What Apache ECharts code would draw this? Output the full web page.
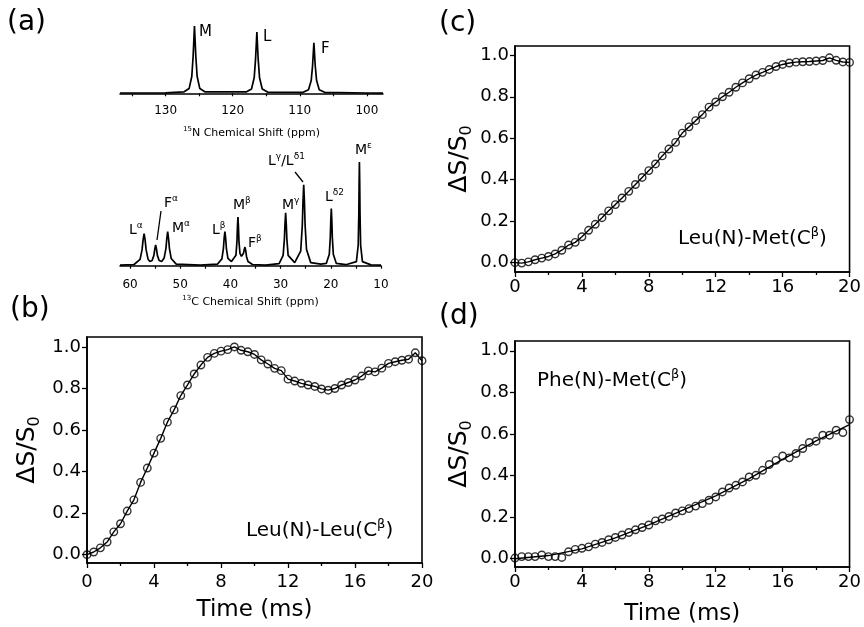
<!DOCTYPE html>
<html><head><meta charset="utf-8">
<script src="https://cdn.jsdelivr.net/npm/echarts@6/dist/echarts.min.js"></script>
<style>html,body{margin:0;padding:0;background:#fff}#c{width:864px;height:627px}</style>
</head><body><div id="c"></div><script>
// ---------- data ----------
const times = [0,0.4,0.8,1.2,1.6,2,2.4,2.8,3.2,3.6,4,4.4,4.8,5.2,5.6,6,6.4,6.8,7.2,7.6,8,8.4,8.8,9.2,9.6,10,10.4,10.8,11.2,11.6,12,12.4,12.8,13.2,13.6,14,14.4,14.8,15.2,15.6,16,16.4,16.8,17.2,17.6,18,18.4,18.8,19.2,19.6,20];
const leuLeu = [0.00,0.013,0.033,0.061,0.11,0.149,0.21,0.264,0.348,0.417,0.489,0.56,0.638,0.697,0.766,0.817,0.87,0.913,0.95,0.969,0.98,0.987,1.0,0.984,0.977,0.964,0.938,0.918,0.897,0.886,0.845,0.836,0.825,0.817,0.81,0.798,0.792,0.80,0.817,0.829,0.841,0.86,0.885,0.88,0.898,0.921,0.929,0.936,0.941,0.972,0.934];
const leuMet = [0.0,-0.002,0.004,0.014,0.022,0.03,0.042,0.06,0.085,0.098,0.125,0.156,0.185,0.217,0.25,0.28,0.312,0.344,0.377,0.411,0.444,0.476,0.515,0.548,0.58,0.625,0.655,0.685,0.714,0.75,0.775,0.8,0.822,0.846,0.867,0.887,0.905,0.918,0.932,0.946,0.956,0.963,0.967,0.969,0.97,0.973,0.975,0.988,0.976,0.968,0.966];
const pheMet = [0.003,0.01,0.01,0.01,0.018,0.01,0.01,0.006,0.033,0.045,0.05,0.057,0.07,0.078,0.091,0.102,0.114,0.126,0.139,0.15,0.162,0.182,0.191,0.203,0.22,0.23,0.241,0.253,0.265,0.281,0.297,0.321,0.34,0.353,0.369,0.393,0.401,0.425,0.453,0.473,0.494,0.485,0.506,0.53,0.559,0.565,0.594,0.594,0.618,0.607,0.669];
const pheMetFitTimes = [0,2,4,6,8,10,12,14,16,18,20];
const pheMetFit = [0.0,0.015,0.047,0.1,0.163,0.232,0.302,0.385,0.478,0.567,0.645];
const yTicks = [0,0.2,0.4,0.6,0.8,1.0];
const timeTicks = [0,4,8,12,16,20];

// 15N spectrum: [ppm, intensity]
const spec15N = [[136.8,0.004],[130,0.006],[127.3,0.02],[126.5,0.07],[126.1,0.25],[125.9,0.55],[125.7,1.0],[125.5,0.55],[125.3,0.25],[124.9,0.07],[124.1,0.02],[118,0.02],[117.2,0.064],[116.8,0.23],[116.6,0.5],[116.4,0.91],[116.2,0.5],[116.0,0.23],[115.6,0.064],[114.8,0.018],[109.5,0.015],[108.7,0.053],[108.3,0.19],[108.1,0.41],[107.9,0.75],[107.7,0.41],[107.5,0.19],[107.1,0.053],[106.3,0.015],[100,0.004],[97.6,0.003]];
const n15Labels = [100,110,120,130];
const n15Ticks = [100,105,110,115,120,125,130,135];

// 13C spectrum: [ppm, intensity]
const spec13C = [[62,0.005],[59.2,0.012],[58.0,0.062],[57.6,0.155],[57.4,0.25],[57.2,0.31],[57.0,0.25],[56.8,0.155],[56.4,0.062],[56.05,0.04],[55.6,0.05],[55.25,0.1],[55.07,0.16],[54.9,0.2],[54.73,0.16],[54.55,0.1],[54.2,0.05],[53.7,0.04],[53.2,0.075],[52.85,0.165],[52.67,0.265],[52.5,0.33],[52.33,0.265],[52.15,0.165],[51.8,0.07],[50.8,0.015],[46,0.005],[42.6,0.015],[41.7,0.066],[41.4,0.165],[41.25,0.265],[41.1,0.33],[40.95,0.265],[40.8,0.165],[40.5,0.07],[39.8,0.04],[38.9,0.1],[38.7,0.235],[38.6,0.375],[38.5,0.47],[38.4,0.375],[38.3,0.235],[38.1,0.12],[37.8,0.09],[37.4,0.12],[37.25,0.155],[37.1,0.18],[36.95,0.145],[36.8,0.09],[36.5,0.04],[35.6,0.012],[33,0.006],[30.3,0.02],[29.5,0.1],[29.25,0.255],[29.12,0.41],[29.0,0.51],[28.88,0.41],[28.75,0.255],[28.5,0.1],[27.2,0.03],[26.0,0.14],[25.68,0.39],[25.54,0.62],[25.4,0.78],[25.26,0.62],[25.12,0.39],[24.84,0.156],[24.0,0.03],[22,0.015],[20.9,0.022],[20.3,0.11],[20.1,0.275],[20.0,0.44],[19.9,0.55],[19.8,0.44],[19.7,0.275],[19.5,0.11],[18.9,0.022],[17,0.01],[14.9,0.04],[14.54,0.2],[14.42,0.5],[14.36,0.8],[14.3,1.0],[14.24,0.8],[14.18,0.5],[14.06,0.2],[13.7,0.04],[12,0.008],[10,0.005]];
const c13Labels = [60,50,40,30,20,10];
const c13Ticks = [60,55,50,45,40,35,30,25,20,15,10];

// ---------- chart ----------
const F = 'DejaVu Sans';
const K = '#000';
const chart = echarts.init(document.getElementById('c'), null, {renderer:'canvas'});

function pair(xs, ys){ return xs.map((x,i)=>[x, ys[i]]); }

const grids = [
  {left:120, top:20, width:263, height:79},
  {left:120, top:155, width:261, height:118},
  {left:87, top:337, width:335, height:226, show:true, borderColor:K, borderWidth:1.6},
  {left:515, top:46, width:338.5, height:226, show:true, borderColor:K, borderWidth:1.6},
  {left:515, top:341, width:337, height:226, show:true, borderColor:K, borderWidth:1.6}
];

function specX(gi, min, max, labels, ticks, name, gap){
  return {gridIndex:gi, type:'value', inverse:true, min:min, max:max,
    axisLine:{show:true, lineStyle:{color:K, width:1.5}},
    axisTick:{show:true, customValues:ticks, length:3, lineStyle:{color:K, width:1.2}},
    axisLabel:{show:true, customValues:labels, color:K, fontSize:12, fontFamily:F, margin:6},
    splitLine:{show:false},
    name:name, nameLocation:'middle', nameGap:gap,
    nameTextStyle:{rich:{a:{fontSize:11, fontFamily:F, color:K, lineHeight:14}, s:{fontSize:7, fontFamily:F, color:K, verticalAlign:'top'}}}
  };
}
function specY(gi, min, max){
  return {gridIndex:gi, type:'value', min:min, max:max, show:false, splitLine:{show:false}};
}
function timeX(gi, withName, margin){
  return {gridIndex:gi, type:'value', min:0, max:20, interval:4,
    axisLine:{show:true, onZero:false, lineStyle:{color:K, width:1.6}},
    axisTick:{show:true, length:5, lineStyle:{color:K, width:1.3}},
    minorTick:{show:true, splitNumber:2, length:3, lineStyle:{color:K, width:1.3}},
    axisLabel:{color:K, fontSize:18, fontFamily:F, margin:margin},
    splitLine:{show:false}, minorSplitLine:{show:false},
    name: withName ? 'Time (ms)' : '', nameLocation:'middle', nameGap:36,
    nameTextStyle:{color:K, fontSize:23, fontFamily:F, verticalAlign:'top'}
  };
}
function fracY(gi, min, max, gap){
  return {gridIndex:gi, type:'value', min:min, max:max,
    axisLine:{show:true, onZero:false, lineStyle:{color:K, width:1.6}},
    axisTick:{show:true, customValues:yTicks, length:5, lineStyle:{color:K, width:1.3}},
    axisLabel:{customValues:yTicks, color:K, fontSize:18, fontFamily:F, margin:6, formatter:v=>v.toFixed(1)},
    splitLine:{show:false},
    name:'{a|ΔS/S}{s|0}', nameLocation:'middle', nameRotate:90, nameGap:gap,
    nameTextStyle:{rich:{a:{fontSize:25, fontFamily:F, color:K, lineHeight:32}, s:{fontSize:16, fontFamily:F, color:K, verticalAlign:'bottom'}}}
  };
}

const lineS = (xi, data, w)=>({type:'line', xAxisIndex:xi, yAxisIndex:xi, data:data, showSymbol:false, smooth:false, lineStyle:{color:K, width:w}, z:2, silent:true});
const dotS = (xi, data)=>({type:'scatter', xAxisIndex:xi, yAxisIndex:xi, data:data, symbol:'circle', symbolSize:7.5, itemStyle:{color:'rgba(0,0,0,0)', borderColor:K, borderWidth:1.4}, z:3, silent:true});

function T(left, top, text, rich){
  return {type:'text', left:left, top:top, z:100, style:{text:text, fill:K, rich:rich}};
}
const big = {a:{fontSize:28, fontFamily:F, fill:K}};
const pk15 = {a:{fontSize:15, fontFamily:F, fill:K}};
const pk13 = {a:{fontSize:14, fontFamily:F, fill:K, lineHeight:18}, s:{fontSize:9, fontFamily:F, fill:K, verticalAlign:'top'}};
const ann = {a:{fontSize:20, fontFamily:F, fill:K, lineHeight:26}, s:{fontSize:13, fontFamily:F, fill:K, verticalAlign:'top'}};

const option = {
  animation:false,
  backgroundColor:'#fff',
  grid:grids,
  xAxis:[
    specX(0, 97.6, 136.8, n15Labels, n15Ticks, '{s|15}{a|N Chemical Shift (ppm)}', 27),
    specX(1, 10, 62, c13Labels, c13Ticks, '{s|13}{a|C Chemical Shift (ppm)}', 22),
    timeX(2, true, 10),
    timeX(3, false, 6),
    timeX(4, true, 6)
  ],
  yAxis:[
    specY(0, -0.085, 1.09),
    specY(1, -0.07, 1.067),
    fracY(2, -0.04, 1.048, 44),
    fracY(3, -0.045, 1.045, 40),
    fracY(4, -0.04, 1.047, 40)
  ],
  series:[
    lineS(0, spec15N, 1.7),
    lineS(1, spec13C, 1.7),
    lineS(2, pair(times, leuLeu), 1.4), dotS(2, pair(times, leuLeu)),
    lineS(3, pair(times, leuMet), 1.4), dotS(3, pair(times, leuMet)),
    lineS(4, pair(pheMetFitTimes, pheMetFit), 1.4), dotS(4, pair(times, pheMet))
  ],
  graphic:[
    T(7, 9, '{a|(a)}', big),
    T(10, 296, '{a|(b)}', big),
    T(439, 10, '{a|(c)}', big),
    T(439, 303, '{a|(d)}', big),
    T(199, 25, '{a|M}', pk15),
    T(263, 30, '{a|L}', pk15),
    T(321, 42, '{a|F}', pk15),
    T(129, 221, '{a|L}{s|α}', pk13),
    T(164, 194, '{a|F}{s|α}', pk13),
    T(172, 219, '{a|M}{s|α}', pk13),
    T(212, 221, '{a|L}{s|β}', pk13),
    T(233, 196, '{a|M}{s|β}', pk13),
    T(248, 234, '{a|F}{s|β}', pk13),
    T(282, 196, '{a|M}{s|γ}', pk13),
    T(268, 152, '{a|L}{s|γ}{a|/L}{s|δ1}', pk13),
    T(325, 188, '{a|L}{s|δ2}', pk13),
    T(355, 141, '{a|M}{s|ε}', pk13),
    {type:'line', z:100, shape:{x1:161, y1:211, x2:157, y2:240}, style:{stroke:K, lineWidth:1.3}},
    {type:'line', z:100, shape:{x1:295, y1:172, x2:303, y2:182}, style:{stroke:K, lineWidth:1.3}},
    T(246, 518, '{a|Leu(N)-Leu(C}{s|β}{a|)}', ann),
    T(678, 226, '{a|Leu(N)-Met(C}{s|β}{a|)}', ann),
    T(537, 368, '{a|Phe(N)-Met(C}{s|β}{a|)}', ann)
  ]
};
chart.setOption(option);
</script></body></html>
